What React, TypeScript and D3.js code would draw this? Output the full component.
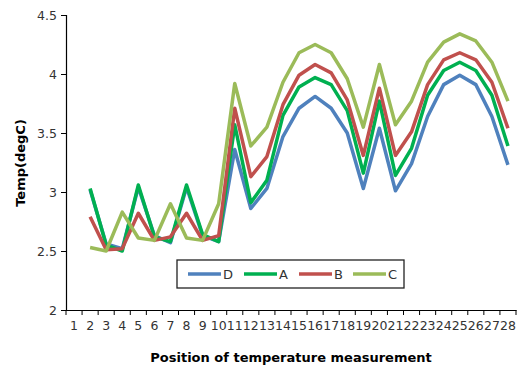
import { useEffect, useRef } from "react";
import * as d3 from "d3";

// positions 1..28 (no readings at position 1)
const positions = [
  "1", "2", "3", "4", "5", "6", "7", "8", "9", "10", "11", "12", "13", "14",
  "15", "16", "17", "18", "19", "20", "21", "22", "23", "24", "25", "26", "27", "28",
];

const yTicks = [2, 2.5, 3, 3.5, 4, 4.5];

const seriesD = [null, 3.02, 2.56, 2.52, 3.04, 2.63, 2.57, 3.04, 2.63, 2.58, 3.36, 2.86, 3.03, 3.47, 3.71, 3.81, 3.71, 3.5, 3.03, 3.54, 3.01, 3.24, 3.64, 3.91, 3.99, 3.91, 3.64, 3.23];
const seriesA = [null, 3.03, 2.55, 2.5, 3.06, 2.62, 2.58, 3.06, 2.64, 2.58, 3.57, 2.91, 3.1, 3.65, 3.89, 3.97, 3.91, 3.69, 3.16, 3.77, 3.14, 3.37, 3.82, 4.03, 4.1, 4.03, 3.82, 3.39];
const seriesB = [null, 2.79, 2.51, 2.52, 2.82, 2.59, 2.62, 2.82, 2.59, 2.63, 3.71, 3.13, 3.3, 3.74, 3.99, 4.08, 4.01, 3.78, 3.31, 3.88, 3.31, 3.51, 3.91, 4.12, 4.18, 4.12, 3.93, 3.54];
const seriesC = [null, 2.53, 2.5, 2.83, 2.61, 2.59, 2.9, 2.61, 2.59, 2.9, 3.92, 3.39, 3.55, 3.93, 4.18, 4.25, 4.18, 3.96, 3.55, 4.08, 3.57, 3.77, 4.1, 4.27, 4.34, 4.28, 4.1, 3.77];

const seriesNames = ["D", "A", "B", "C"];
const seriesColors = ["#4f81bd", "#00b050", "#c0504d", "#9bbb59"];

const App = () => {
  const svgRef = useRef(null);

  useEffect(() => {
    const width = 520;
    const height = 371;
    const left = 66;
    const right = 516;
    const top = 15;
    const bottom = 310;
    const font = "'DejaVu Sans', Verdana, sans-serif";

    const svg = d3.select(svgRef.current).attr("width", width).attr("height", height);
    svg.selectAll("*").remove();

    const x = d3.scaleBand().domain(positions).range([left, right]);
    const y = d3.scaleLinear().domain([2, 4.5]).range([bottom, top]);

    // y axis
    const yAxis = svg
      .append("g")
      .attr("transform", `translate(${left},0)`)
      .call(d3.axisLeft(y).tickValues(yTicks).tickSize(5).tickPadding(4).tickFormat(d3.format("")));
    yAxis.select(".domain").attr("stroke", "#000").attr("stroke-width", 1.2);
    yAxis.selectAll(".tick line").attr("stroke", "#000");
    yAxis.selectAll("text").attr("font-family", font).attr("font-size", 12.5).attr("fill", "#333");

    // x axis (category axis, ticks between categories)
    const xAxis = svg
      .append("g")
      .attr("transform", `translate(0,${bottom})`)
      .call(d3.axisBottom(x).tickSize(0).tickPadding(11));
    xAxis.select(".domain").attr("stroke", "#000").attr("stroke-width", 1.2);
    xAxis.selectAll("text").attr("font-family", font).attr("font-size", 12.5).attr("fill", "#333");
    const bounds = positions.map((p) => x(p)).concat([right]);
    xAxis
      .selectAll(".sep")
      .data(bounds)
      .enter()
      .append("line")
      .attr("x1", (d) => d)
      .attr("x2", (d) => d)
      .attr("y1", 0)
      .attr("y2", 5)
      .attr("stroke", "#000");

    // lines
    const allSeries = [seriesD, seriesA, seriesB, seriesC];
    const line = d3
      .line()
      .defined((d) => d != null)
      .x((d, i) => x(positions[i]) + x.bandwidth() / 2)
      .y((d) => y(d));

    allSeries.forEach((vals, k) => {
      svg
        .append("path")
        .datum(vals)
        .attr("fill", "none")
        .attr("stroke", seriesColors[k])
        .attr("stroke-width", 3.5)
        .attr("stroke-linejoin", "round")
        .attr("d", line);
    });

    // legend
    const legend = svg.append("g");
    legend
      .append("rect")
      .attr("x", 177)
      .attr("y", 260)
      .attr("width", 227)
      .attr("height", 28)
      .attr("fill", "#fff")
      .attr("stroke", "#222")
      .attr("stroke-width", 1.3);
    const legendX = [188, 244, 299, 353];
    seriesNames.forEach((name, k) => {
      legend
        .append("line")
        .attr("x1", legendX[k])
        .attr("x2", legendX[k] + 33)
        .attr("y1", 274)
        .attr("y2", 274)
        .attr("stroke", seriesColors[k])
        .attr("stroke-width", 3.5);
      legend
        .append("text")
        .attr("x", legendX[k] + 35)
        .attr("y", 279)
        .attr("font-family", font)
        .attr("font-size", 13)
        .attr("fill", "#333")
        .text(name);
    });

    // axis titles
    svg
      .append("text")
      .attr("x", 291)
      .attr("y", 362)
      .attr("text-anchor", "middle")
      .attr("font-family", font)
      .attr("font-weight", "bold")
      .attr("font-size", 13)
      .attr("fill", "#000")
      .text("Position of temperature measurement");

    svg
      .append("text")
      .attr("transform", "translate(25,163) rotate(-90)")
      .attr("text-anchor", "middle")
      .attr("font-family", font)
      .attr("font-weight", "bold")
      .attr("font-size", 13)
      .attr("fill", "#000")
      .text("Temp(degC)");

    return () => {
      svg.selectAll("*").remove();
    };
  }, []);

  return (
    <div style={{ position: "absolute", left: 0, top: 0 }}>
      <svg ref={svgRef}></svg>
    </div>
  );
};

export default App;
